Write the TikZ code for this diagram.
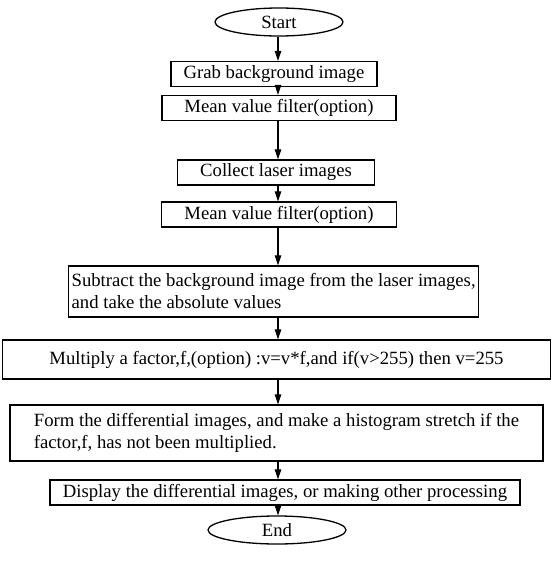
\documentclass[tikz,border=0pt]{standalone}
\usepackage{fontspec}
\setmainfont{Liberation Serif}
\usetikzlibrary{arrows.meta,shapes.geometric}
\tikzset{
  stepbox/.style={draw, line width=1.3pt, inner sep=0pt, minimum height=25pt},
  term/.style={draw, ellipse, line width=1.3pt, inner sep=0pt, minimum height=28pt},
  flow/.style={line width=1.1pt, -{Triangle[length=10pt,width=6.5pt]}}
}

\begin{document}
\begin{tikzpicture}[x=1pt,y=-1pt,font=\fontsize{18.7}{22}\selectfont]
\useasboundingbox (0,0) rectangle (552,568);
\coordinate (axis) at (278,0);
\node (start) [term, minimum width=128pt] at (279,22) {Start};
\node (grab) [stepbox, minimum width=206pt] at (274,74) {Grab background image};
\node (mean1) [stepbox, minimum width=234pt] at (279,108) {Mean value filter(option)};
\node (collect) [stepbox, minimum width=197pt] at (276,172.5) {Collect laser images};
\node (mean2) [stepbox, minimum width=235pt] at (279,214.5) {Mean value filter(option)};
\node (subtract) [stepbox, anchor=west, inner xsep=3pt, minimum height=51pt, align=left] at (68,291.5)
  {Subtract the background image from the laser images,\\and take the absolute values};
\node (multiply) [stepbox, minimum width=548pt, minimum height=39pt] at (276.5,359.5)
  {Multiply a factor,f,(option) :v=v*f,and if(v>255) then v=255};
\node (form) [stepbox, minimum width=533pt, inner xsep=4pt, minimum height=56pt, align=left] at (276.5,433)
  {Form the differential images, and make a histogram stretch if the\\factor,f, has not been multiplied.};
\node (display) [stepbox, minimum width=470pt] at (285,492.5)
  {Display the differential images, or making other processing};
\node (end) [term, minimum width=138pt] at (277,530) {End};

\draw [flow] (start.south -| axis) -- (grab.north -| axis);
\draw [flow] (grab.south -| axis) -- (mean1.north -| axis);
\draw [flow] (mean1.south -| axis) -- (collect.north -| axis);
\draw [flow] (collect.south -| axis) -- (mean2.north -| axis);
\draw [flow] (mean2.south -| axis) -- (subtract.north -| axis);
\draw [flow] (subtract.south -| axis) -- (multiply.north -| axis);
\draw [flow] (multiply.south -| axis) -- (form.north -| axis);
\draw [flow] (form.south -| axis) -- (display.north -| axis);
\draw [flow] (display.south -| axis) -- (end.north -| axis);
\end{tikzpicture}
\end{document}
